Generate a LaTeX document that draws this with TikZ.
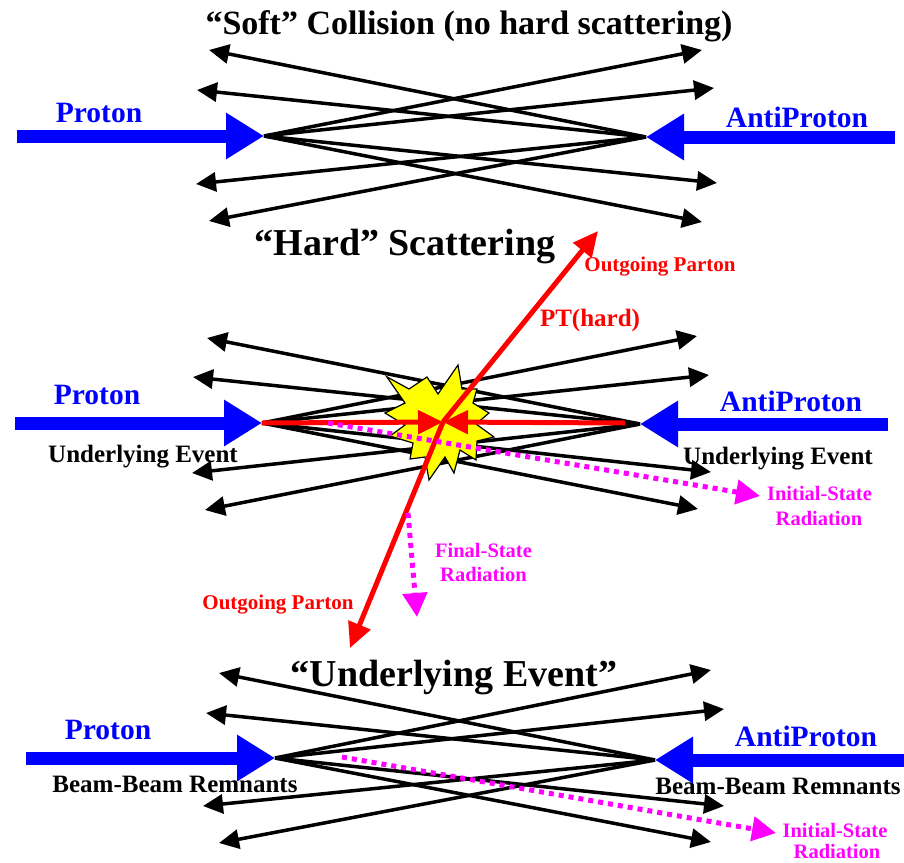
\documentclass[tikz,border=0pt]{standalone}
\usepackage{fontspec}
\setmainfont{Liberation Serif}
\usetikzlibrary{arrows.meta}
\definecolor{mag}{RGB}{255,0,255}
\definecolor{rd}{RGB}{255,0,0}
\definecolor{bl}{RGB}{0,0,255}
\definecolor{yl}{RGB}{255,255,0}
\newcommand{\fsz}[1]{\fontsize{#1}{#1}\selectfont\bfseries}
\tikzset{
  blk/.style={line width=3.5pt, -{Triangle[length=20pt,width=19pt]}},
  beam/.style={bl, line width=13pt, -{Triangle[length=38pt,width=44pt]}},
  parton/.style={rd, line width=5pt, -{Triangle[length=25pt,width=23pt]}},
  rad/.style={mag, line width=5pt, dash pattern=on 5pt off 5pt, -{Triangle[length=24pt,width=24pt]}},
  lbl/.style={anchor=base, inner sep=0pt},
  ttl/.style={lbl, font=\fsz{34}},
  bttl/.style={lbl, font=\fsz{38}},
  beamlbl/.style={lbl, text=bl, font=\fsz{29.5}},
  blklbl/.style={lbl, font=\fsz{25}},
  redlbl/.style={lbl, text=rd, font=\fsz{21}},
  maglbl/.style={lbl, text=mag, font=\fsz{20.5}}
}
\begin{document}
\begin{tikzpicture}[x=1pt,y=-1pt]
\useasboundingbox (0,0) rectangle (904,862);
% ================= Panel 1 =================
\node[ttl] (t1) at (469,34) {“Soft” Collision (no hard scattering)};
\node[beamlbl] (p1) at (99,122) {Proton};
\node[beamlbl] (ap1) at (797,127) {AntiProton};
\coordinate (L1) at (264,136);
\coordinate (R1) at (646,137);
\coordinate (pS1) at (17,136);
\coordinate (aS1) at (895,137);
\coordinate (la1) at (209,50); \coordinate (lb1) at (197,90);
\coordinate (lc1) at (196,184); \coordinate (ld1) at (209,221);
\coordinate (ra1) at (702,50); \coordinate (rb1) at (714,88);
\coordinate (rc1) at (717,183); \coordinate (rd1) at (702,222);
\foreach \t in {ra1,rb1,rc1,rd1} \draw[blk] (L1) -- (\t);
\foreach \t in {la1,lb1,lc1,ld1} \draw[blk] (R1) -- (\t);
\draw[beam] (pS1) -- (L1);
\draw[beam] (aS1) -- (R1);
% ================= Panel 2 =================
\node[bttl] (t2) at (405,255) {“Hard” Scattering};
\node[beamlbl] (p2) at (97,404) {Proton};
\node[beamlbl] (ap2) at (791,411) {AntiProton};
\node[blklbl] (ue2l) at (143,462) {Underlying Event};
\node[blklbl] (ue2r) at (778,464) {Underlying Event};
\coordinate (L2) at (262,423);
\coordinate (R2) at (640,424);
\coordinate (pS2) at (15,423);
\coordinate (aS2) at (888,424);
\coordinate (la2) at (207,338); \coordinate (lb2) at (193,377);
\coordinate (lc2) at (192,473); \coordinate (ld2) at (205,510);
\coordinate (ra2) at (697,336); \coordinate (rb2) at (709,375);
\coordinate (rc2) at (711,472); \coordinate (rd2) at (698,509);
\foreach \t in {ra2,rb2,rc2,rd2} \draw[blk] (L2) -- (\t);
\foreach \t in {la2,lb2,lc2,ld2} \draw[blk] (R2) -- (\t);
\draw[beam] (pS2) -- (L2);
\draw[beam] (aS2) -- (R2);
% star
\draw[fill=yl, line width=1.2pt, line join=miter]
 (386.7,376.7) -- (409,389) -- (427,377) -- (438,394) -- (458,365) -- (462,389)
 -- (477,389) -- (473,403) -- (489,413) -- (476,424) -- (494,437) -- (477,441)
 -- (476,460) -- (460,450) -- (454,473) -- (445,457) -- (429,480) -- (425,457)
 -- (410,459) -- (413,443) -- (390,436) -- (405,425) -- (385,413) -- (405,403) -- cycle;
\coordinate (C) at (443,422);
\coordinate (rs) at (625,423);
\coordinate (oU) at (598,231);
\coordinate (oD) at (350,648);
\draw[parton] (L2) -- (C);
\draw[parton] (rs) -- (C);
\draw[parton] (C) -- (oU);
\draw[parton] (C) -- (oD);
\node[redlbl] (op1) at (660,271) {Outgoing Parton};
\node[redlbl] (op2) at (278,609) {Outgoing Parton};
\node[lbl, text=rd, font=\fsz{25}] (pt) at (590,326) {PT(hard)};
\coordinate (isr2a) at (328,423);
\coordinate (isr2b) at (760,496);
\draw[rad] (isr2a) -- (isr2b);
\node[maglbl] (isr2t) at (819.5,500) {Initial-State};
\node[maglbl] (isr2u) at (819,525) {Radiation};
\coordinate (fsra) at (408,513);
\coordinate (fsrb) at (417,617);
\draw[rad] (fsra) -- (fsrb);
\node[maglbl] (fsrt) at (483.5,557) {Final-State};
\node[maglbl] (fsru) at (483.5,581) {Radiation};
% ================= Panel 3 =================
\node[bttl] (t3) at (454,686) {“Underlying Event”};
\node[beamlbl] (p3) at (108,739) {Proton};
\node[beamlbl] (ap3) at (806,746) {AntiProton};
\node[blklbl] (bb3l) at (175,792) {Beam-Beam Remnants};
\node[blklbl] (bb3r) at (778,794) {Beam-Beam Remnants};
\coordinate (L3) at (275,758);
\coordinate (R3) at (655,760);
\coordinate (pS3) at (26,758);
\coordinate (aS3) at (904,760);
\coordinate (la3) at (219,673); \coordinate (lb3) at (206,713);
\coordinate (lc3) at (203,806); \coordinate (ld3) at (219,843);
\coordinate (ra3) at (711,670); \coordinate (rb3) at (724,709);
\coordinate (rc3) at (724,806); \coordinate (rd3) at (711,842);
\foreach \t in {ra3,rb3,rc3,rd3} \draw[blk] (L3) -- (\t);
\foreach \t in {la3,lb3,lc3,ld3} \draw[blk] (R3) -- (\t);
\draw[beam] (pS3) -- (L3);
\draw[beam] (aS3) -- (R3);
\coordinate (isr3a) at (342,757);
\coordinate (isr3b) at (776,833);
\draw[rad] (isr3a) -- (isr3b);
\node[maglbl] (isr3t) at (835,837) {Initial-State};
\node[maglbl] (isr3u) at (837,858) {Radiation};
\end{tikzpicture}
\end{document}
